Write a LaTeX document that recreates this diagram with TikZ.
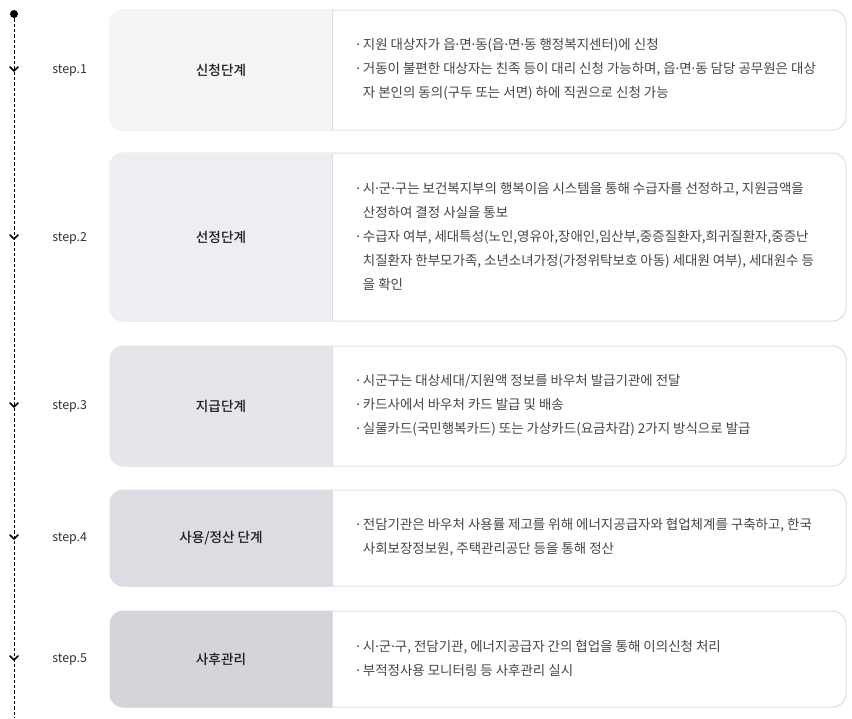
\documentclass[tikz,border=0pt]{standalone}
\usepackage{fontspec}
\setmainfont{Noto Sans CJK KR}
\newfontfamily\latindot{Noto Sans}
\newfontfamily\titlefont{Noto Sans CJK KR Medium}
\usetikzlibrary{positioning}

\definecolor{panelA}{HTML}{F4F5F7}
\definecolor{panelB}{HTML}{EDEEF1}
\definecolor{panelC}{HTML}{E5E6EA}
\definecolor{panelD}{HTML}{DCDDE2}
\definecolor{panelE}{HTML}{D3D5DB}
\definecolor{cardgray}{HTML}{DDDDDD}
\definecolor{bodygray}{HTML}{454545}
\definecolor{titlegray}{HTML}{1E1E1E}
\definecolor{stepgray}{HTML}{333333}

\newcommand{\md}{{\latindot ·}}
\newcommand{\cardindent}{\hphantom{\md\ }}

\begin{document}
\begin{tikzpicture}[x=0.75pt,y=-0.75pt,
    title/.style={font=\titlefont\fontsize{10.2}{12}\selectfont, text=titlegray, inner sep=0pt},
    body/.style={font=\fontsize{10.1}{18}\selectfont, text=bodygray, align=left, anchor=west, inner sep=0pt},
    steplabel/.style={font=\fontsize{9.3}{12}\selectfont, text=stepgray, anchor=west, inner sep=0pt},
    chevron/.style={line width=1.3pt, line cap=round, line join=round},
    cardline/.style={draw=cardgray, line width=0.75pt}]
    \useasboundingbox (0,0) rectangle (852,718);

    % timeline
    \node(dot) at (14,14) [circle, fill=black, inner sep=0pt, minimum size=6pt] {};
    \coordinate(tlend) at (14,718);
    \draw[line width=0.75pt, dash pattern=on 2.5pt off 1.5pt] (dot) -- (tlend);
    \draw[chevron] (10,67) -- (14,71) -- (18,67);
    \draw[chevron] (10,235) -- (14,239) -- (18,235);
    \draw[chevron] (10,403) -- (14,407) -- (18,403);
    \draw[chevron] (10,535) -- (14,539) -- (18,535);
    \draw[chevron] (10,656) -- (14,660) -- (18,656);
    \node(s1) at (52,70) [steplabel] {step.1};
    \node(s2) at (52,238) [steplabel] {step.2};
    \node(s3) at (52,406) [steplabel] {step.3};
    \node(s4) at (52,538) [steplabel] {step.4};
    \node(s5) at (52,659) [steplabel] {step.5};

    % step 1
    \draw[cardline, rounded corners=10] (110,10) rectangle (846,130);
    \begin{scope}
      \clip[rounded corners=10.5] (109.5,9.5) rectangle (846,130.5);
      \fill[panelA] (109.5,9.5) rectangle (332,130.5);
    \end{scope}
    \draw[cardline] (332,10) -- (332,130);
    \node(t1) at (221,70) [title] {신청단계};
    \node(b1) at (356,69) [body] {\md\ 지원 대상자가 읍\md 면\md 동(읍\md 면\md 동 행정복지센터)에 신청\\
      \md\ 거동이 불편한 대상자는 친족 등이 대리 신청 가능하며, 읍\md 면\md 동 담당 공무원은 대상\\
      \cardindent 자 본인의 동의(구두 또는 서면) 하에 직권으로 신청 가능};

    % step 2
    \draw[cardline, rounded corners=10] (110,153) rectangle (846,321);
    \begin{scope}
      \clip[rounded corners=10.5] (109.5,152.5) rectangle (846,321.5);
      \fill[panelB] (109.5,152.5) rectangle (332,321.5);
    \end{scope}
    \draw[cardline] (332,153) -- (332,321);
    \node(t2) at (221,237) [title] {선정단계};
    \node(b2) at (356,236) [body] {\md\ 시\md 군\md 구는 보건복지부의 행복이음 시스템을 통해 수급자를 선정하고, 지원금액을\\
      \cardindent 산정하여 결정 사실을 통보\\
      \md\ 수급자 여부, 세대특성(노인,영유아,장애인,임산부,중증질환자,희귀질환자,중증난\\
      \cardindent 치질환자 한부모가족, 소년소녀가정(가정위탁보호 아동) 세대원 여부), 세대원수 등\\
      \cardindent 을 확인};

    % step 3
    \draw[cardline, rounded corners=10] (110,346) rectangle (846,466);
    \begin{scope}
      \clip[rounded corners=10.5] (109.5,345.5) rectangle (846,466.5);
      \fill[panelC] (109.5,345.5) rectangle (332,466.5);
    \end{scope}
    \draw[cardline] (332,346) -- (332,466);
    \node(t3) at (221,406) [title] {지급단계};
    \node(b3) at (356,405) [body] {\md\ 시군구는 대상세대/지원액 정보를 바우처 발급기관에 전달\\
      \md\ 카드사에서 바우처 카드 발급 및 배송\\
      \md\ 실물카드(국민행복카드) 또는 가상카드(요금차감) 2가지 방식으로 발급};

    % step 4
    \draw[cardline, rounded corners=10] (110,490) rectangle (846,586);
    \begin{scope}
      \clip[rounded corners=10.5] (109.5,489.5) rectangle (846,586.5);
      \fill[panelD] (109.5,489.5) rectangle (332,586.5);
    \end{scope}
    \draw[cardline] (332,490) -- (332,586);
    \node(t4) at (221,538) [title] {사용/정산 단계};
    \node(b4) at (356,537) [body] {\md\ 전담기관은 바우처 사용률 제고를 위해 에너지공급자와 협업체계를 구축하고, 한국\\
      \cardindent 사회보장정보원, 주택관리공단 등을 통해 정산};

    % step 5
    \draw[cardline, rounded corners=10] (110,611) rectangle (846,707);
    \begin{scope}
      \clip[rounded corners=10.5] (109.5,610.5) rectangle (846,707.5);
      \fill[panelE] (109.5,610.5) rectangle (332,707.5);
    \end{scope}
    \draw[cardline] (332,611) -- (332,707);
    \node(t5) at (221,659) [title] {사후관리};
    \node(b5) at (356,658) [body] {\md\ 시\md 군\md 구, 전담기관, 에너지공급자 간의 협업을 통해 이의신청 처리\\
      \md\ 부적정사용 모니터링 등 사후관리 실시};
  \end{tikzpicture}
\end{document}
